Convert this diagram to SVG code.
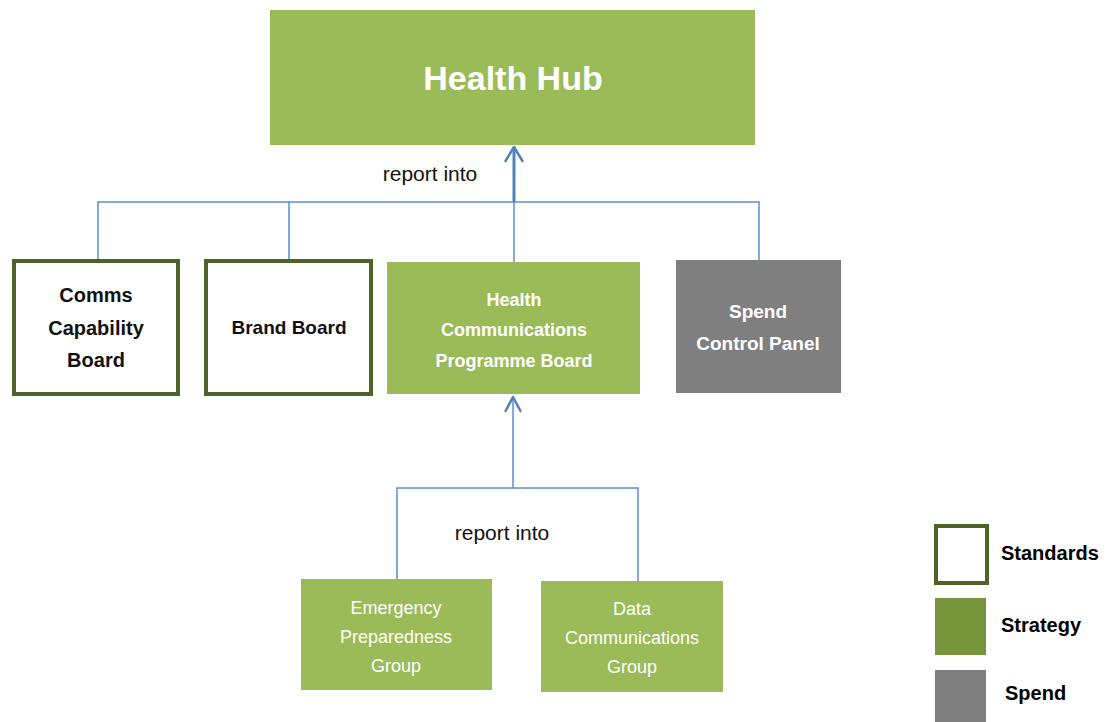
<svg xmlns="http://www.w3.org/2000/svg" width="1117" height="722" viewBox="0 0 1117 722">
<style>
.std{fill:#fff;stroke:#4F6228;stroke-width:4}
.str{fill:#9BBB59}
.spd{fill:#7F7F7F}
.b{font-family:"Liberation Sans",Arial,sans-serif;font-weight:bold;text-anchor:middle}
.r{font-family:"Liberation Sans",Arial,sans-serif;text-anchor:middle}
.dk{fill:#111}
.wh{fill:#fff}
.ln{fill:none;stroke:#5B8ED0;stroke-width:1.5}
.ar{fill:none;stroke:#4F81BD;stroke-width:3}
.ah{fill:none;stroke:#4F81BD;stroke-width:2.5;stroke-linecap:round;stroke-linejoin:round}
.lg{font-family:"Liberation Sans",Arial,sans-serif;font-weight:bold;font-size:20px;fill:#000}
</style>
<rect width="1117" height="722" fill="#fff"/>
<g id="connectors">
<polyline class="ln" points="98,260 98,202 759,202 759,260"/>
<line class="ln" x1="289" y1="202" x2="289" y2="260"/>
<line class="ln" x1="514" y1="202" x2="514" y2="262"/>
<line class="ar" x1="514" y1="202" x2="514" y2="148"/>
<path class="ah" d="M505.5,161 L514,147 L522.5,161"/>
<polyline class="ln" points="397,579 397,488 638,488 638,581"/>
<line class="ln" x1="513" y1="488" x2="513" y2="398"/>
<path class="ah" d="M505.5,411 L513,397 L520.5,411" stroke-width="2"/>
<text class="r dk" x="430" y="181" font-size="21">report into</text>
<text class="r dk" x="502" y="540" font-size="21">report into</text>
</g>
<g id="health-hub">
<rect class="str" x="270" y="10" width="485" height="135"/>
<text class="b wh" x="513" y="90" font-size="34">Health Hub</text>
</g>
<g id="comms-capability-board">
<rect class="std" x="14" y="261" width="164" height="133"/>
<text class="b dk" x="96" y="302" font-size="20">Comms</text>
<text class="b dk" x="96" y="335" font-size="20">Capability</text>
<text class="b dk" x="96" y="367" font-size="20">Board</text>
</g>
<g id="brand-board">
<rect class="std" x="206" y="261" width="165" height="133"/>
<text class="b dk" x="289" y="334" font-size="19">Brand Board</text>
</g>
<g id="hcpb">
<rect class="str" x="387" y="262" width="253" height="132"/>
<text class="b wh" x="514" y="306" font-size="18">Health</text>
<text class="b wh" x="514" y="336" font-size="18">Communications</text>
<text class="b wh" x="514" y="367" font-size="18">Programme Board</text>
</g>
<g id="spend-control-panel">
<rect class="spd" x="676" y="260" width="165" height="133"/>
<text class="b wh" x="758" y="318" font-size="19">Spend</text>
<text class="b wh" x="758" y="350" font-size="19">Control Panel</text>
</g>
<g id="emergency-preparedness-group">
<rect class="str" x="301" y="579" width="191" height="111"/>
<text class="r wh" x="396" y="614" font-size="18">Emergency</text>
<text class="r wh" x="396" y="643" font-size="18">Preparedness</text>
<text class="r wh" x="396" y="672" font-size="18">Group</text>
</g>
<g id="data-communications-group">
<rect class="str" x="541" y="581" width="182" height="111"/>
<text class="r wh" x="632" y="615" font-size="18">Data</text>
<text class="r wh" x="632" y="644" font-size="18">Communications</text>
<text class="r wh" x="632" y="673" font-size="18">Group</text>
</g>
<g id="legend">
<rect class="std" x="936" y="526" width="51" height="57"/>
<rect x="935" y="598" width="51" height="57" fill="#77933C"/>
<rect x="935" y="670" width="51" height="52" fill="#7F7F7F"/>
<text class="lg" x="1001" y="560">Standards</text>
<text class="lg" x="1001" y="632">Strategy</text>
<text class="lg" x="1005" y="700">Spend</text>
</g>
</svg>
